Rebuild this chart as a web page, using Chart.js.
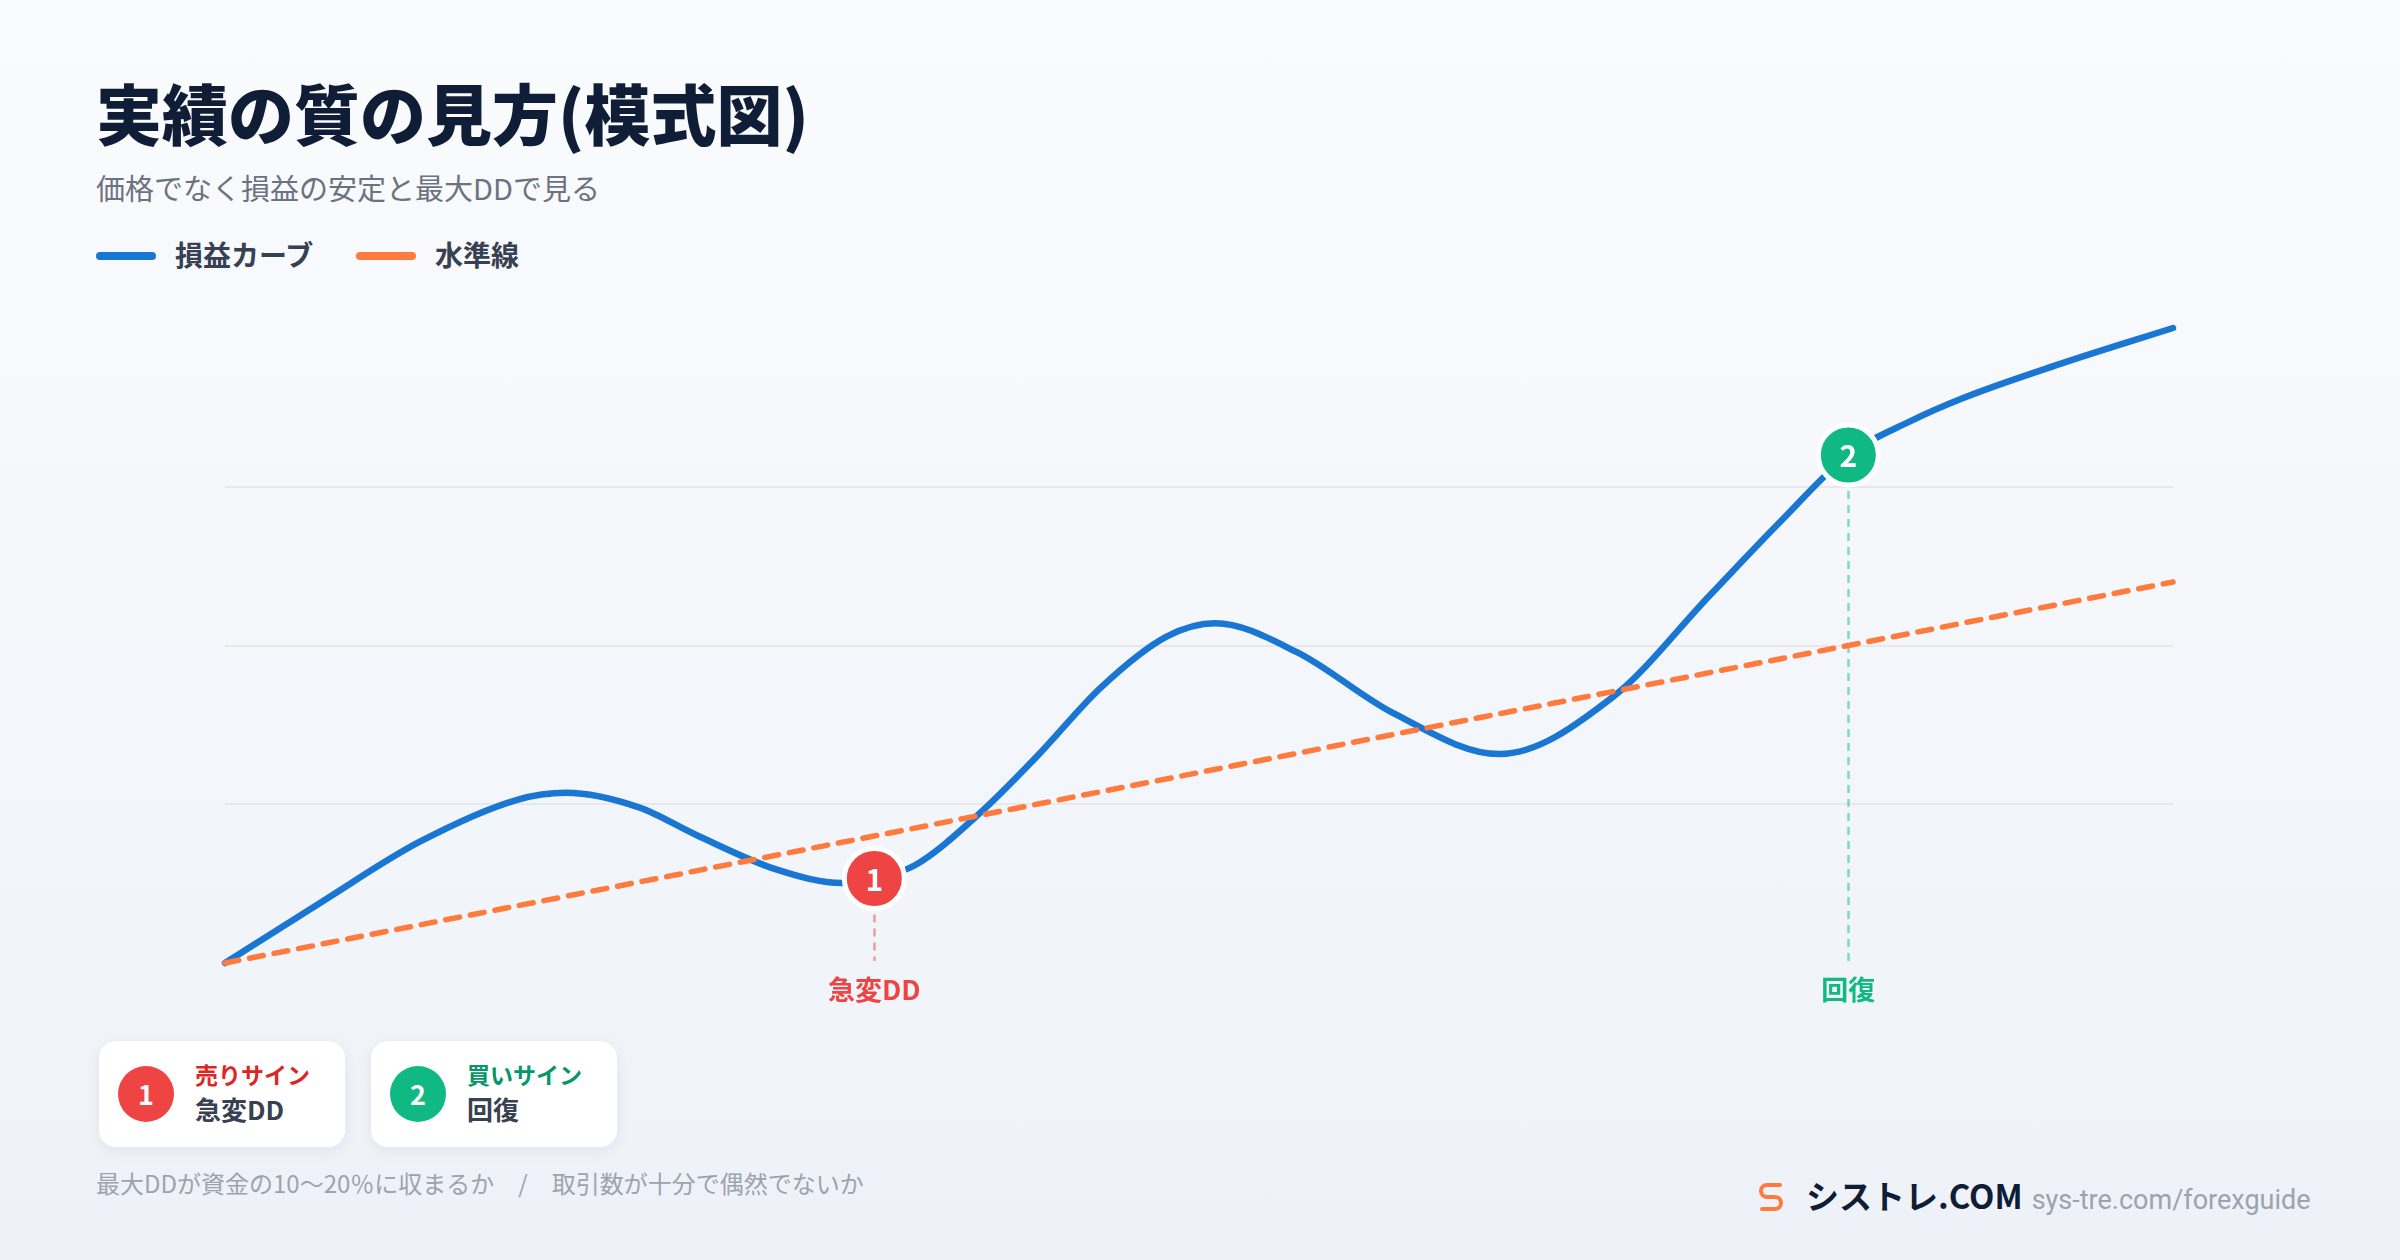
<!DOCTYPE html>
<html lang="ja">
<head>
<meta charset="utf-8">
<script src="https://cdn.jsdelivr.net/npm/chart.js@4"></script>
<style>
  html, body { margin: 0; padding: 0; }
  body {
    width: 2400px; height: 1260px; position: relative; overflow: hidden;
    background: linear-gradient(180deg, #fafbfd 0%, #eef2f8 100%);
    font-family: "Noto Sans CJK JP", "Noto Sans", sans-serif;
  }
  .abs { position: absolute; line-height: 1; white-space: nowrap; }
  #title { left: 96px; top: 78px; font-size: 66px; font-weight: 900; color: #0f1e36; }
  #subtitle { left: 96px; top: 173px; font-size: 29px; color: #6b7280; }
  .legend-line { position: absolute; width: 60px; height: 8px; border-radius: 4px; top: 252px; }
  .legend-text { top: 240px; font-size: 28px; font-weight: 700; color: #374151; }
  #chart-box { position: absolute; left: 0; top: 280px; width: 2400px; height: 740px; }
  .card {
    position: absolute; top: 1040px; width: 248px; height: 108px;
    background: #fff; border-radius: 18px; border: 1px solid #e9edf3;
    box-sizing: border-box; box-shadow: 0 4px 14px rgba(15, 23, 42, 0.06);
  }
  .card .dot {
    position: absolute; left: 19px; top: 25px; width: 56px; height: 56px; border-radius: 50%;
    color: #fff; font-weight: 700; font-size: 27px; text-align: center; line-height: 56px;
  }
  .card .k { position: absolute; left: 96px; top: 22px; font-size: 23px; font-weight: 700; line-height: 1; white-space: nowrap; }
  .card .v { position: absolute; left: 96px; top: 55px; font-size: 26px; font-weight: 700; line-height: 1; color: #374151; white-space: nowrap; }
  #note { left: 96px; top: 1171px; font-size: 24px; color: #9ca3af; }
  #brand { position: absolute; left: 1758px; top: 1171px; display: flex; align-items: baseline; white-space: nowrap; }
  #brand .name { font-size: 33px; font-weight: 700; color: #0f1e36; margin-left: 22px; }
  #brand .url { font-family: Roboto, "Noto Sans", sans-serif; font-size: 27px; color: #9ca3af; margin-left: 9px; }
</style>
</head>
<body>
<div id="title" class="abs">実績の質の見方(模式図)</div>
<div id="subtitle" class="abs">価格でなく損益の安定と最大DDで見る</div>

<div class="legend-line" style="left:96px;background:#1976d2"></div>
<div class="legend-text abs" style="left:175px">損益カーブ</div>
<div class="legend-line" style="left:356px;background:#ff7a3d"></div>
<div class="legend-text abs" style="left:435px">水準線</div>

<div id="chart-box"><canvas id="chart"></canvas></div>

<div class="card" style="left:98px">
  <div class="dot" style="background:#ef4444">1</div>
  <div class="k" style="color:#dc2626">売りサイン</div>
  <div class="v">急変DD</div>
</div>
<div class="card" style="left:370px">
  <div class="dot" style="background:#10b981">2</div>
  <div class="k" style="color:#059669">買いサイン</div>
  <div class="v">回復</div>
</div>

<div id="note" class="abs">最大DDが資金の10〜20％に収まるか　/　取引数が十分で偶然でないか</div>

<div id="brand">
  <svg width="26" height="32" viewBox="0 0 26 32" style="align-self:center;margin-top:4px">
    <path d="M22 4 H9 a6 6 0 0 0 0 12 h8 a6 6 0 0 1 0 12 H4" fill="none" stroke="#ff7a3d" stroke-width="4" stroke-linecap="round"/>
  </svg>
  <span class="name">シストレ.COM</span>
  <span class="url">sys-tre.com/forexguide</span>
</div>

<script>
// 損益カーブ (模式図) の読み取り値
const curveX = [0, 0.6, 1.2, 1.8, 2.1, 2.55, 2.9, 3.4, 3.8, 4.0, 4.25, 4.65, 5.0, 5.4, 5.8, 6.1, 6.6, 7.2, 7.85, 8.55, 9.15, 9.6, 10.0, 10.38, 10.7, 11.3, 12];
const curveY = [0, 9.7, 19.1, 25.7, 26.8, 24.5, 20.2, 14.7, 12.6, 13.3, 15.4, 23.6, 32.5, 43.5, 51.4, 53.5, 49.0, 39.3, 32.9, 41.9, 58.0, 70.0, 80.0, 85.3, 88.9, 94.3, 100];

// 水準線
const levelX = [0, 12];
const levelY = [0, 60];

// サイン
const signalX = [4.0, 10.0];
const signalY = [13.3, 80.0];
const signalNums = ["1", "2"];
const signalLabels = ["急変DD", "回復"];

const signalFill = ["#ef4444", "#10b981"];
const signalGuide = ["rgba(239,68,68,0.5)", "rgba(16,185,129,0.5)"];
const signalText = ["#ef4444", "#10b981"];

const toPoints = (xs, ys) => xs.map((x, i) => ({ x: x, y: ys[i] }));

const signalPlugin = {
  id: "signals",
  beforeDatasetsDraw(chart) {
    const { ctx, scales: { x, y }, chartArea } = chart;
    ctx.save();
    ctx.lineWidth = 2.5;
    ctx.setLineDash([8, 6]);
    signalX.forEach((v, i) => {
      const px = Math.round(x.getPixelForValue(v)) + 0.5;
      const py = y.getPixelForValue(signalY[i]);
      ctx.strokeStyle = signalGuide[i];
      ctx.beginPath();
      ctx.moveTo(px, py + 36);
      ctx.lineTo(px, chartArea.bottom - 2);
      ctx.stroke();
    });
    ctx.restore();
  },
  afterDatasetsDraw(chart) {
    const { ctx, scales: { x, y }, chartArea } = chart;
    ctx.save();
    ctx.textAlign = "center";
    ctx.textBaseline = "middle";
    signalX.forEach((v, i) => {
      const px = x.getPixelForValue(v);
      const py = y.getPixelForValue(signalY[i]);
      ctx.fillStyle = "#ffffff";
      ctx.font = "700 30px 'Noto Sans CJK JP', 'Noto Sans', sans-serif";
      ctx.fillText(signalNums[i], px, py + 1);
      ctx.fillStyle = signalText[i];
      ctx.font = "700 27px 'Noto Sans CJK JP', 'Noto Sans', sans-serif";
      ctx.fillText(signalLabels[i], px, chartArea.bottom + 27);
    });
    ctx.restore();
  }
};

new Chart(document.getElementById("chart").getContext("2d"), {
  type: "line",
  data: {
    datasets: [
      {
        label: "サイン",
        data: toPoints(signalX, signalY),
        showLine: false,
        pointRadius: 30,
        pointBorderWidth: 5,
        pointBorderColor: "#ffffff",
        pointBackgroundColor: signalFill,
        order: 0,
        clip: false
      },
      {
        label: "水準線",
        data: toPoints(levelX, levelY),
        borderColor: "#ff7a3d",
        borderWidth: 5.5,
        borderDash: [14, 11],
        borderCapStyle: "round",
        pointRadius: 0,
        fill: false,
        order: 1,
        clip: false
      },
      {
        label: "損益カーブ",
        data: toPoints(curveX, curveY),
        borderColor: "#1976d2",
        borderWidth: 6.5,
        borderCapStyle: "round",
        cubicInterpolationMode: "monotone",
        pointRadius: 0,
        fill: false,
        order: 2,
        clip: false
      }
    ]
  },
  options: {
    responsive: true,
    maintainAspectRatio: false,
    animation: false,
    events: [],
    layout: { padding: { left: 225, right: 227, top: 48, bottom: 57 } },
    plugins: {
      legend: { display: false },
      tooltip: { enabled: false }
    },
    scales: {
      x: { type: "linear", display: false, min: 0, max: 12 },
      y: {
        min: 0,
        max: 100,
        ticks: { display: false, stepSize: 25 },
        grid: {
          drawTicks: false,
          lineWidth: 2,
          color: (c) => (c.tick && (c.tick.value === 0 || c.tick.value === 100)) ? "rgba(0,0,0,0)" : "#e6e8ec"
        },
        border: { display: false },
        afterFit: (s) => { s.width = 0; }
      }
    }
  },
  plugins: [signalPlugin]
});
</script>
</body>
</html>
